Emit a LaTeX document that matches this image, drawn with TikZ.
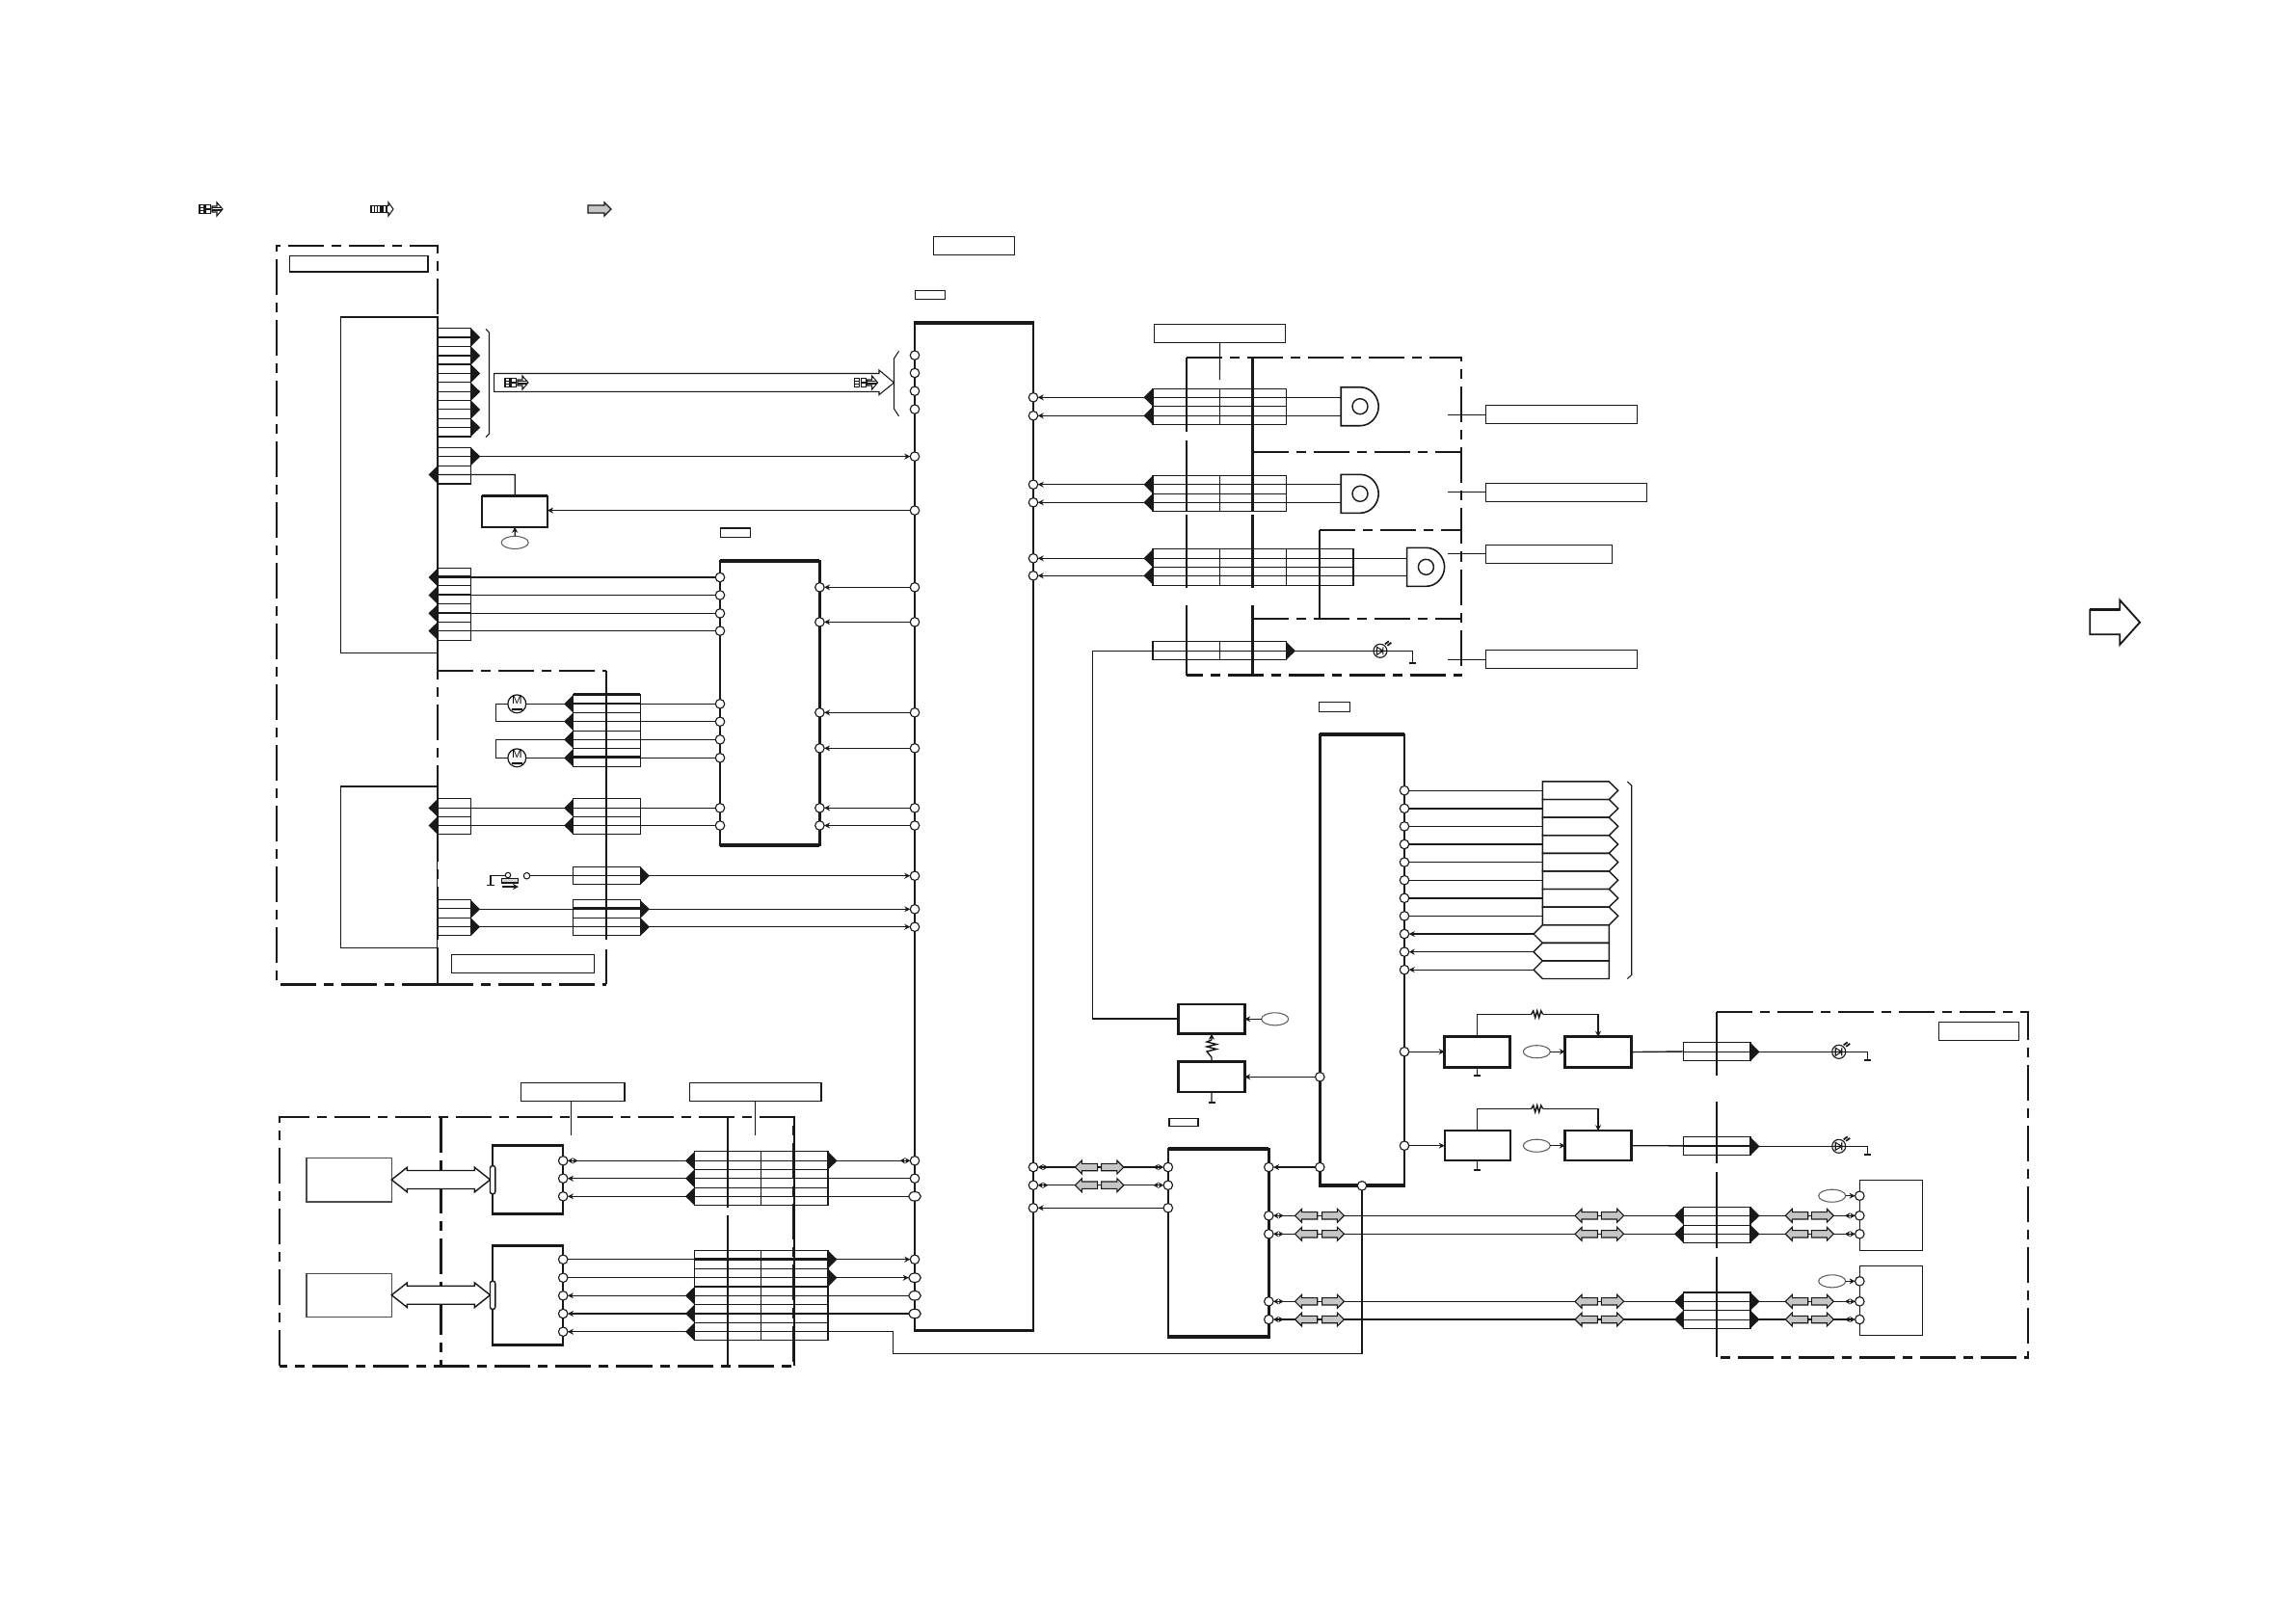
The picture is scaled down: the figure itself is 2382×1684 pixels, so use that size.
\documentclass[tikz,border=0pt]{standalone}
\usetikzlibrary{arrows.meta,shapes.geometric}
\definecolor{ink}{gray}{0.1}
\tikzset{
  w0/.style={line width=0.3pt,draw=ink},
  w1/.style={line width=0.4pt,draw=ink},
  w15/.style={line width=0.52pt,draw=ink},
  w2/.style={line width=0.7pt,draw=ink},
  w4/.style={line width=1.1pt,draw=ink},
  dsh/.style={line width=0.75pt,draw=ink,dash pattern=on 3.7mm off 0.8mm on 1mm off 0.8mm},
  arr/.style={w1,-{Stealth[length=1.7pt,width=1.7pt]}},
  dbl/.style={w1,-{Stealth[length=1.5pt,width=1.7pt,reversed]Stealth[length=1.5pt,width=1.7pt]}},
  bb/.style={w1,{Stealth[length=1.5pt,width=1.7pt]Stealth[length=1.5pt,width=1.7pt,reversed]}-{Stealth[length=1.5pt,width=1.7pt,reversed]Stealth[length=1.5pt,width=1.7pt]}},
  pinn/.style={circle,draw=ink,line width=0.32pt,fill=white,minimum size=0.095cm,inner sep=0pt,outer sep=0pt},
  pinw/.style={ellipse,draw=ink,line width=0.32pt,fill=white,minimum width=0.125cm,minimum height=0.095cm,inner sep=0pt,outer sep=0pt},
  ell/.style={ellipse,draw=ink!70,line width=0.3pt,fill=white,minimum width=0.28cm,minimum height=0.13cm,inner sep=0pt,outer sep=0pt},
  lbl/.style={w1},
  mot/.style={circle,draw=ink,line width=0.35pt,fill=white,minimum size=0.16cm,inner sep=0pt,outer sep=0pt},
  busf/.style={line width=0.32pt,draw=ink,fill=gray!45},
}
\newcommand\xpin[3]{\node[pinn] (#1) at (#2,#3) {};}
\newcommand\xpinw[3]{\node[pinw] (#1) at (#2,#3) {};}
\newcommand\xbox[6][w1]{\node[draw,#1,rectangle,inner sep=0pt,outer sep=0pt,anchor=north west,minimum width={(#5-#3)*0.01cm},minimum height={(#6-#4)*0.01cm}] (#2) at (#3,#4) {};}
\newcommand\xstk[7]{\xbox[w1]{#1}{#2}{#3}{#4}{#5}%
  \foreach \rr in {#6} {\draw[w0] (#2,\rr) -- (#4,\rr);}%
  \foreach \cc in {#7} {\draw[w0] (\cc,#3) -- (\cc,#5);}}
\newcommand\xtipr[3]{\fill[ink] (#1,#2-#3) -- (#1+9.5,#2) -- (#1,#2+#3) -- cycle;}
\newcommand\xtipl[3]{\fill[ink] (#1,#2-#3) -- (#1-9.5,#2) -- (#1,#2+#3) -- cycle;}
\newcommand\xgnd[2]{\draw[line width=0.6pt,draw=ink] (#1-3.5,#2) -- (#1+3.5,#2);}
\newcommand\xbusr[3]{\draw[busf] (#1,#3-3.7) -- (#2-7,#3-3.7) -- (#2-7,#3-7) -- (#2,#3) -- (#2-7,#3+7) -- (#2-7,#3+3.7) -- (#1,#3+3.7) -- cycle;}
\newcommand\xbusl[3]{\draw[busf] (#2,#3-3.7) -- (#1+7,#3-3.7) -- (#1+7,#3-7) -- (#1,#3) -- (#1+7,#3+7) -- (#1+7,#3+3.7) -- (#2,#3+3.7) -- cycle;}
\newcommand\xresh[3]{\draw[w1] (#1,#3) -- (#1+2,#3-3.5) -- (#1+4,#3+3.5) -- (#1+6,#3-3.5) -- (#1+8,#3+3.5) -- (#1+10,#3-3.5) -- (#2,#3);}
\newcommand\xresv[3]{\draw[w1] (#3,#1) -- (#3-5,#1+2) -- (#3+5,#1+4.5) -- (#3-5,#1+7) -- (#3+5,#1+9.5) -- (#3-5,#1+12) -- (#3,#2);}
\newcommand\xled[3]{\node[circle,draw=ink,line width=0.32pt,minimum size=0.14cm,inner sep=0pt,outer sep=0pt,fill=white] (#1) at (#2,#3) {};
  \draw[w0] (#2-3.5,#3-4) -- (#2-3.5,#3+4) -- (#2+3,#3) -- cycle (#2+3,#3-4) -- (#2+3,#3+4) (#2-7,#3) -- (#2+7,#3);
  \draw[line width=0.5pt,draw=ink] (#2+5,#3-7) -- (#2+9,#3-10) (#2+7.5,#3-5.5) -- (#2+11.5,#3-8.5);}
\newcommand\xicona[2]{%
  \draw[w0] (#1,#2-4.5) rectangle (#1+5,#2+4.5) (#1,#2-1.5) -- (#1+5,#2-1.5) (#1,#2+1.5) -- (#1+5,#2+1.5);
  \draw[w0] (#1+6.5,#2-4.5) rectangle (#1+11.5,#2+4.5) (#1+6.5,#2) -- (#1+11.5,#2);
  \draw[w0,fill=white] (#1+13,#2-3) -- (#1+18,#2-3) -- (#1+18,#2-7) -- (#1+24,#2) -- (#1+18,#2+7) -- (#1+18,#2+3) -- (#1+13,#2+3) -- cycle;
  \draw[line width=0.2pt,draw=ink] (#1+13,#2-1.5) -- (#1+22,#2-1.5) (#1+13,#2) -- (#1+23,#2) (#1+13,#2+1.5) -- (#1+22,#2+1.5);}
\newcommand\xhead[3]{%
  \draw[line width=0.45pt,draw=ink,fill=white] (#1,#2-20) -- (#1+20,#2-20) .. controls (#1+31,#2-20) and (#1+39,#2-10) .. (#1+39,#2) .. controls (#1+39,#2+10) and (#1+31,#2+20) .. (#1+20,#2+20) -- (#1,#2+20) -- cycle;
  \node[circle,draw=ink,line width=0.4pt,minimum size=0.16cm,inner sep=0pt,outer sep=0pt] (#3) at (#1+19.8,#2) {};}
\begin{document}
\begin{tikzpicture}[x=0.01cm,y=-0.01cm]
\useasboundingbox[fill=white] (0,0) rectangle (2382,1684);

% legend
\xicona{207}{217}
\draw[w0] (385,213.5) rectangle (395,220.5) (388.3,213.5) -- (388.3,220.5) (391.7,213.5) -- (391.7,220.5);
\draw[w0] (397,213.5) rectangle (401,220.5);
\draw[w0] (401,213.5) -- (403,213.5) -- (403,210) -- (408,217) -- (403,224) -- (403,220.5) -- (401,220.5);
\draw[busf] (610,213) -- (627,213) -- (627,210) -- (634,217) -- (627,224) -- (627,221) -- (610,221) -- cycle;

% dashed frames
\draw[dsh] (454,1021.3) -- (287,1021.3) -- (287,255) -- (454,255) -- (454,1021.3);
\draw[dsh] (454,696) -- (629,696);
\draw[dsh] (454,1021.3) -- (629,1021.3);
\draw[w1] (629,696) -- (629,975) (629,985) -- (629,1021.3);

\draw[dsh] (1231,371) -- (1515.8,371) -- (1515.8,700.7) -- (1231,700.7);
\draw[dsh] (1299.7,469) -- (1515.8,469);
\draw[dsh] (1299.7,642) -- (1515.8,642);
\draw[dsh] (1369,550) -- (1515.8,550);
\draw[w2] (1231,371) -- (1231,448) (1231,457) -- (1231,530) (1231,534) -- (1231,610) (1231,628) -- (1231,700.7);
\draw[w2] (1299.7,371) -- (1299.7,530) (1299.7,534) -- (1299.7,610) (1299.7,628) -- (1299.7,700.7);
\draw[w2] (1369,550) -- (1369,642);

\draw[dsh] (290,1417.3) -- (290,1159) -- (823.8,1159) -- (823.8,1417.3) -- cycle;
\draw[dsh] (457.2,1159) -- (457.2,1417.3);
\draw[w2] (755,1159) -- (755,1252.7) (755,1261) -- (755,1417.3);
\draw[w2] (823.8,1159) -- (823.8,1252.7) (823.8,1261) -- (823.8,1417.3);

\draw[dsh] (1781,1050) -- (2104,1050) -- (2104,1408.3) -- (1781,1408.3);
\draw[w2] (1781,1050) -- (1781,1116) (1781,1143) -- (1781,1207) (1781,1216) -- (1781,1295) (1781,1304) -- (1781,1408.3);

% label boxes
\xbox[lbl]{lA}{300.4}{265.4}{444}{281.8}
\xbox[lbl]{lB}{468.4}{990.3}{616.6}{1009.3}
\xbox[lbl]{lC}{968.3}{245.3}{1052.3}{264.3}
\xbox[lbl]{lD}{949.3}{301.3}{980.7}{310.7}
\xbox[lbl]{lE}{747.4}{547.9}{778.5}{557.5}
\xbox[lbl]{lF}{1368.3}{728.3}{1400.7}{738.3}
\xbox[lbl]{lG}{1213}{1160.5}{1243}{1168.5}
\xbox[lbl]{lH}{1197.5}{336.3}{1333.7}{355.3}
\coordinate (lHe) at (1265.4,394);
\draw[w0] (lH.south) -- (lHe);
\xbox[lbl]{lI}{1541.3}{420.3}{1698.4}{439.3}
\xbox[lbl]{lJ}{1541.3}{501.3}{1708.7}{520.3}
\xbox[lbl]{lK}{1541.3}{565.3}{1672.5}{584.3}
\xbox[lbl]{lL}{1541.3}{674.3}{1698.4}{693.3}
\coordinate (lIe) at (1502,430.3);
\coordinate (lJe) at (1502,510.3);
\coordinate (lKe) at (1502,574.3);
\coordinate (lLe) at (1502,684.3);
\draw[w1] (lI.west |- lIe) -- (lIe);
\draw[w1] (lJ.west |- lJe) -- (lJe);
\draw[w1] (lK.west |- lKe) -- (lKe);
\draw[w1] (lL.west |- lLe) -- (lLe);
\xbox[lbl]{lM}{540.2}{1123.3}{647.8}{1142.7}
\xbox[lbl]{lN}{715.5}{1123.3}{851.8}{1142.7}
\coordinate (lMe) at (592.3,1178.3);
\coordinate (lNe) at (783.6,1178.3);
\draw[w0] (lM.south -| lMe) -- (lMe);
\draw[w0] (lN.south -| lNe) -- (lNe);
\xbox[lbl]{lO}{2011.3}{1060.3}{2094.3}{1079.3}

% main blocks
\xbox[w1]{bA}{353.5}{329}{454}{677.5}
\xbox[w1]{bB}{353.7}{816}{453.7}{983.7}
\draw[w2] (bB.north west) -- (bB.north east);
\xbox[w2]{mn}{949}{334.7}{1072}{1380.7}
\draw[w4] (mn.north west) -- (mn.north east);
\xbox[w2]{ic2}{747}{582}{850.4}{876.7}
\draw[w4] (ic2.north west) -- (ic2.north east);
\draw[w4] (ic2.south west) -- (ic2.south east);
\xbox[w2]{ic3}{1369.3}{762.4}{1457}{1230.3}
\draw[w4] (ic3.north west) -- (ic3.north east);
\draw[w4] (ic3.south west) -- (ic3.south east);
\xbox[w2]{ic4}{1211.8}{1192}{1316.3}{1387.3}
\draw[w4] (ic4.north west) -- (ic4.north east);
\draw[w4] (ic4.south west) -- (ic4.south east);
\xbox[w2]{ic5}{510.8}{1188}{584.2}{1259.3}
\draw[w2,line width=0.85pt] (ic5.north west) -- (ic5.north east);
\draw[w2,line width=0.85pt] (ic5.south west) -- (ic5.south east);
\xbox[w2]{ic6}{510.8}{1292.7}{584.2}{1395.7}
\draw[w2,line width=0.85pt] (ic6.north west) -- (ic6.north east);
\draw[w2,line width=0.85pt] (ic6.south west) -- (ic6.south east);
\xbox[w1,draw=gray!60!black]{gA}{317.9}{1201.7}{406.3}{1247}
\xbox[w1,draw=gray!60!black]{gB}{317.9}{1321.3}{406.3}{1366.7}
\xbox[w15]{bT}{500.4}{514.6}{568}{546.8}
\draw[w2] (bT.north west) -- (bT.north east);
\xbox[w2]{bH}{1222.7}{1042}{1291.3}{1072.7}
\xbox[w2]{bI}{1222.7}{1101.7}{1291.3}{1133}
\xbox[w2]{bC}{1498.7}{1075.7}{1566.7}{1107.4}
\xbox[w2]{bD}{1623.7}{1075.7}{1692.3}{1107.4}
\xbox[w15]{bE}{1498.7}{1173.2}{1566.7}{1204.2}
\xbox[w2]{bF}{1623.7}{1173.2}{1692.3}{1204.2}
\xbox[w1]{bR}{1929.3}{1224.3}{1994.3}{1297.3}
\xbox[w1]{bS}{1929.3}{1313.3}{1994.3}{1385.3}

% stacks
\xstk{s1}{454}{340.4}{488.7}{452.9}{350,359.3,369,378,387.5,396.8,406.4,415.4,424.6,434.3,443.6}{454}
\foreach \yy in {350,369,387.5,406.4,425,443.6} {\xtipr{488.7}{\yy}{9.3}}
\xstk{s2}{454}{464.3}{488.7}{501.8}{473.6,483.2,492.5}{454}
\xtipr{488.7}{473.6}{9.3}
\xtipl{454}{492.5}{9.3}
\xstk{s3}{454}{589.3}{488.7}{664.3}{598.6,607.9,617,626.4,636,645.4,654.3}{454}
\draw[w2] (454,598.6) -- (488.7,598.6);
\foreach \yy in {599,617.5,636.4,654.6} {\xtipl{454}{\yy}{9.3}}
\xstk{s4}{594.7}{720.7}{664.4}{795.3}{730,739.3,748.3,758.3,767.3,776.3,786.3}{629}
\draw[w2] (594.7,720.7) -- (664.4,720.7) (594.7,785.5) -- (664.4,785.5);
\foreach \yy in {730.3,748.7,767.3,786.3} {\xtipl{594.7}{\yy}{9.3}}
\xstk{s5}{454}{828.3}{488.5}{865.7}{838.3,847.3,856.5}{454}
\xtipl{454}{838.3}{9.3}\xtipl{454}{856.5}{9.3}
\xstk{s6}{594.7}{828.3}{664.4}{865.7}{838.3,847.3,856.5}{629}
\xtipl{594.7}{838.3}{9.3}\xtipl{594.7}{856.5}{9.3}
\xstk{s7}{594.7}{899.3}{664.4}{917.7}{908.7}{629}
\xtipr{664.4}{908.7}{9.3}
\xstk{s8}{454}{933.3}{488.5}{970.7}{942.7,952.3,961.3}{454}
\xtipr{488.5}{943.3}{9.3}\xtipr{488.5}{961.7}{9.3}
\xstk{s9}{594.7}{933.3}{664.4}{970.7}{942.7,952.3,961.3}{629}
\draw[w2] (594.7,942.7) -- (664.4,942.7);
\xtipr{664.4}{943.3}{9.3}\xtipr{664.4}{961.7}{9.3}

\xstk{t1}{1196}{403.3}{1334.5}{440.3}{412.3,421.3,431.3}{1230.5,1265.4,1299.7}
\xtipl{1196}{412.3}{9.3}\xtipl{1196}{431.3}{9.3}
\xstk{t2}{1196}{493.3}{1334.5}{530.7}{502.7,512.3,521.3}{1230.5,1265.4,1299.7}
\xtipl{1196}{502.7}{9.3}\xtipl{1196}{521.3}{9.3}
\xstk{t3}{1196}{569.3}{1403.8}{607.3}{579.3,588.3,597.3}{1230.5,1265.4,1299.7,1334.5,1369.4}
\xtipl{1196}{579.3}{9.3}\xtipl{1196}{597.3}{9.3}
\xstk{t4}{1196}{665.3}{1334.5}{684.3}{675.3}{1230.5,1265.4,1299.7}
\xtipr{1334.5}{675.3}{9.3}

\xstk{u1}{720.5}{1194.3}{859}{1250.7}{1204.3,1213.7,1222.7,1232.3,1241.3}{755,789.8,824.2}
\foreach \yy in {1204.3,1222.7,1241.3} {\xtipl{720.5}{\yy}{9.3}}
\xtipr{859}{1204.3}{9.3}
\xstk{u2}{720.5}{1297.7}{859}{1390.7}{1307,1316.3,1325.7,1335,1344.3,1353.7,1363,1372.3,1381.7}{755,789.8,824.2}
\draw[w2] (720.5,1306) -- (859,1306) (720.5,1335) -- (859,1335) (720.5,1363) -- (859,1363);
\xtipr{859}{1306.7}{9.3}\xtipr{859}{1325.7}{9.3}
\foreach \yy in {1344.3,1363,1381.7} {\xtipl{720.5}{\yy}{9.3}}

\xstk{v1}{1746.5}{1081.3}{1816}{1100.7}{1091.3}{1781}
\xtipr{1816}{1091.3}{9.5}
\xstk{v2}{1746.5}{1179.3}{1816}{1198.3}{1189.3}{1781}
\draw[w2] (1746.5,1188.8) -- (1816,1188.8);
\xtipr{1816}{1189.3}{9.5}
\xstk{v3}{1746.5}{1252.3}{1816}{1289.3}{1261.3,1271.3,1280.3}{1781}
\xtipl{1746.5}{1261.3}{9.3}\xtipl{1746.5}{1280.3}{9.3}
\xtipr{1816}{1261.3}{9.3}\xtipr{1816}{1280.3}{9.3}
\xstk{v4}{1746.5}{1341}{1816}{1378.3}{1350.3,1359.3,1369}{1781}
\draw[w2] (1746.5,1341) -- (1816,1341);
\xtipl{1746.5}{1350.3}{9.3}\xtipl{1746.5}{1369}{9.3}
\xtipr{1816}{1350.3}{9.3}\xtipr{1816}{1369}{9.3}

% brace marks
\draw[w0] (504,341.4) -- (507.5,345) -- (507.5,450) -- (504,453.6);
\draw[w0] (932.5,364.3) -- (927.5,372) -- (927.5,424) -- (932.5,431.8);
\draw[w0] (1688.3,811) -- (1692.7,815) -- (1692.7,1011.5) -- (1688.3,1015.5);

% big arrow
\draw[w0,fill=white] (512.6,387.5) -- (912,387.5) -- (912,384) -- (927.5,397) -- (912,409.6) -- (912,406.4) -- (512.6,406.4) -- cycle;
\xicona{524}{397}
\xicona{886.6}{397}

% far right arrow
\draw[w15] (2168.3,632.7) -- (2199.3,632.7) -- (2199.3,622.7) -- (2220,645.7) -- (2199.3,668.7) -- (2199.3,658.3) -- (2168.3,658.3) -- cycle;
\draw[w2] (2168.3,632.7) -- (2199.3,632.7);

% pins on main, left
\foreach \nn/\yy in {m1/368.6,m2/387,m3/405.7,m4/424.6,m5/473.6,m6/529.6,m7/609.3,m8/645.4,m9/739.3,m10/776.3,m11/838.3,m12/856.5,m13/908.7,m14/943.3,m15/961.7,m16/1204.3,m17/1222.7,m19/1306.7}
  {\xpin{\nn}{949}{\yy}}
\foreach \nn/\yy in {m18/1241.3,m20/1325.7,m21/1344.3,m22/1363}
  {\xpinw{\nn}{949}{\yy}}
\foreach \nn/\yy in {r1/412.3,r2/431.3,r3/502.7,r4/521.3,r5/579.3,r6/597.3,r7/1211,r8/1229.7,r9/1253.3}
  {\xpin{\nn}{1072}{\yy}}
\foreach \nn/\yy in {a1/599,a2/617.5,a3/636.4,a4/654.6,a5/730.3,a6/748.7,a7/767.3,a8/786.3,a9/838.3,a10/856.5}
  {\xpin{\nn}{747}{\yy}}
\foreach \nn/\yy in {b1/609.3,b2/645.4,b3/739.3,b4/776.3,b5/838.3,b6/856.5}
  {\xpin{\nn}{850.4}{\yy}}
\foreach \nn/\yy in {i1/1204.3,i2/1222.7,i3/1241.3,j1/1306.7,j2/1325.7,j3/1344.3,j4/1363,j5/1381.7}
  {\xpin{\nn}{584.2}{\yy}}
\foreach \nn/\yy in {d1/1211,d2/1229.7,d3/1253.3}
  {\xpin{\nn}{1211.8}{\yy}}
\foreach \nn/\yy in {e0/1211,e1/1261.3,e2/1280.3,e3/1350.3,e4/1369}
  {\xpin{\nn}{1316.3}{\yy}}
\xpin{pa}{1369.3}{1117.3}
\xpin{pb}{1369.3}{1211}
\xpin{pbot}{1413}{1230.3}
\xpin{qa}{1457}{1091.2}
\xpin{qb}{1457}{1188.7}
\foreach \nn/\yy in {f1/1240.7,f2/1261.3,f3/1280.3,f4/1329.3,f5/1350.3,f6/1369}
  {\xpin{\nn}{1929.3}{\yy}}

% wires, top left
\draw[arr] (s2.east |- m5) -- (m5);
\draw[w1] (454,492.5) -- (534.2,492.5) -- (bT.north);
\draw[arr] (m6) -- (bT.east |- m6);
\node[ell] (eT) at (534.2,562.9) {};
\draw[arr] (eT) -- (bT.south);
\foreach \aa in {a1,a2,a3,a4} {\draw[w1] (s3.east |- \aa) -- (\aa);}
\draw[arr] (m7) -- (b1);
\draw[arr] (m8) -- (b2);

% motors
\node[mot] (mo1) at (536.3,730.3) {\fontsize{3.4}{3.4}\selectfont\sffamily\underline{M}};
\node[mot] (mo2) at (536.3,786.3) {\fontsize{3.4}{3.4}\selectfont\sffamily\underline{M}};
\coordinate (lp1) at (514.4,730.3);
\coordinate (lp2) at (514.4,748.7);
\coordinate (lp3) at (514.4,767.3);
\coordinate (lp4) at (514.4,786.3);
\draw[w1] (mo1) -- (s4.west |- mo1);
\draw[w1] (mo1) -- (lp1) -- (lp2) -- (s4.west |- lp2);
\draw[w1] (mo2) -- (s4.west |- mo2);
\draw[w1] (mo2) -- (lp4) -- (lp3) -- (s4.west |- lp3);
\foreach \aa in {a5,a6,a7,a8} {\draw[w1] (s4.east |- \aa) -- (\aa);}
\draw[arr] (m9) -- (b3);
\draw[arr] (m10) -- (b4);
\foreach \aa in {a9,a10} {\draw[w1] (s5.east |- \aa) -- (s6.west |- \aa); \draw[w1] (s6.east |- \aa) -- (\aa);}
\draw[arr] (m11) -- (b5);
\draw[arr] (m12) -- (b6);

% switch
\node[circle,draw=ink,line width=0.3pt,minimum size=0.065cm,inner sep=0pt,outer sep=0pt,fill=white] (sw) at (546.5,908.7) {};
\draw[w1] (sw) -- (s7.west |- sw);
\draw[arr] (s7.east |- m13) -- (m13);
\draw[w1] (524,908.3) -- (509,908.3) -- (509,918.7);
\draw[w1] (504.5,918.7) -- (513,918.7);
\node[circle,draw=ink,line width=0.3pt,minimum size=0.055cm,inner sep=0pt,fill=white] (swk) at (527,908) {};
\draw[w1,fill=gray!30] (520.6,911.3) rectangle (537.6,916);
\draw[arr] (520.6,920) -- (538,920);
\draw[w1] (s8.east |- m14) -- (s9.west |- m14);
\draw[w1] (s8.east |- m15) -- (s9.west |- m15);
\draw[arr] (s9.east |- m14) -- (m14);
\draw[arr] (s9.east |- m15) -- (m15);

% top right wires and heads
\draw[arr] (t1.west |- r1) -- (r1);
\draw[arr] (t1.west |- r2) -- (r2);
\draw[arr] (t2.west |- r3) -- (r3);
\draw[arr] (t2.west |- r4) -- (r4);
\draw[arr] (t3.west |- r5) -- (r5);
\draw[arr] (t3.west |- r6) -- (r6);

\xhead{1391.2}{421.7}{hc1}
\xhead{1391.2}{512.3}{hc2}
\xhead{1459.6}{588.3}{hc3}
\coordinate (hd1) at (1391.2,421.7);
\coordinate (hd2) at (1391.2,512.3);
\coordinate (hd3) at (1459.6,588.3);
\draw[w1] (t1.east |- r1) -- (hd1 |- r1);
\draw[w1] (t1.east |- r2) -- (hd1 |- r2);
\draw[w1] (t2.east |- r3) -- (hd2 |- r3);
\draw[w1] (t2.east |- r4) -- (hd2 |- r4);
\draw[w1] (t3.east |- r5) -- (hd3 |- r5);
\draw[w1] (t3.east |- r6) -- (hd3 |- r6);

% LED on top right
\xled{ld1}{1431.9}{675.3}
\coordinate (gd1) at (1465.4,687.7);
\draw[w1] (t4.east |- ld1) -- (ld1);
\draw[w1] (ld1) -| (gd1);
\xgnd{1465.4}{687.7}

% regulators
\coordinate (wc1) at (1133.3,675.3);
\coordinate (wc2) at (1133.3,1057);
\draw[w1] (t4.west |- wc1) -- (wc1) -- (wc2) -- (bH.west |- wc2);
\node[ell] (eH) at (1322.7,1057.3) {};
\draw[arr] (eH) -- (bH.east |- eH);
\coordinate (rv1) at (1257,1079);
\coordinate (rv2) at (1257,1097);
\xresv{1079}{1097}{1257}
\draw[arr] (rv1) -- (bH.south);
\draw[w1] (rv2) -- (bI.north);
\draw[arr] (pa) -- (bI.east |- pa);
\coordinate (gI) at (1257,1144);
\draw[w1] (bI.south) -- (gI);
\xgnd{1257}{1144}

% right pins of IC3
\foreach \i in {1,...,11} {
  \pgfmathsetmacro\tp{810.9+18.6*(\i-1)}
  \pgfmathsetmacro\md{\tp+9.3}
  \pgfmathsetmacro\bt{\tp+18.6}
  \xpin{q\i}{1457}{\md}
  \ifnum\i<9
    \draw[w1] (1600.3,\tp) -- (1669.3,\tp) -- (1678.7,\md) -- (1669.3,\bt) -- (1600.3,\bt) -- cycle;
    \coordinate (ch\i) at (1600.3,\md);
    \draw[w1] (q\i) -- (ch\i);
  \else
    \draw[w1] (1669.3,\tp) -- (1600.3,\tp) -- (1591,\md) -- (1600.3,\bt) -- (1669.3,\bt) -- cycle;
    \coordinate (ch\i) at (1591,\md);
    \draw[arr] (ch\i) -- (q\i);
  \fi
}

% LED drivers
\draw[arr] (qa) -- (bC.west |- qa);
\draw[arr] (qb) -- (bE.west |- qb);
\coordinate (rh1) at (1588.7,1052.3);
\coordinate (rh2) at (1600.7,1052.3);
\coordinate (rh3) at (1588.7,1150.4);
\coordinate (rh4) at (1600.7,1150.4);
\draw[w1] (bC.north) |- (rh1);
\xresh{1588.7}{1600.7}{1052.3}
\draw[arr] (rh2) -| (bD.north);
\draw[w1] (bE.north) |- (rh3);
\xresh{1588.7}{1600.7}{1150.4}
\draw[arr] (rh4) -| (bF.north);
\coordinate (gC) at (1532.7,1116.4);
\coordinate (gE) at (1532.7,1213.8);
\draw[w1] (bC.south) -- (gC);
\draw[w1] (bE.south) -- (gE);
\xgnd{1532.7}{1116.4}
\xgnd{1532.7}{1213.8}
\node[ell] (eD) at (1594.3,1091.2) {};
\node[ell] (eF) at (1594.3,1188.7) {};
\draw[arr] (eD) -- (bD.west |- eD);
\draw[arr] (eF) -- (bF.west |- eF);
\draw[w1] (bD.east) -- (v1.west);
\draw[w1] (bF.east) -- (v2.west);
\xled{ld2}{1907.7}{1091.3}
\xled{ld3}{1907.7}{1189.3}
\coordinate (gd2) at (1937.3,1100);
\coordinate (gd3) at (1937.3,1198);
\draw[w1] (v1.east |- ld2) -- (ld2);
\draw[w1] (v2.east |- ld3) -- (ld3);
\draw[w1] (ld2) -| (gd2);
\draw[w1] (ld3) -| (gd3);
\xgnd{1937.3}{1100}
\xgnd{1937.3}{1198}

% buses
\draw[bb] (r7) -- (d1);
\draw[bb] (r8) -- (d2);
\draw[arr] (d3) -- (r9);
\draw[arr] (pb) -- (e0);
\foreach \yy in {1211,1229.7} {\xbusl{1115.4}{1138.6}{\yy}\xbusr{1142.6}{1165.8}{\yy}}
\foreach \aa in {e1,e2,e3,e4} {
  \draw[w1,{Stealth[length=1.5pt,width=1.7pt]Stealth[length=1.5pt,width=1.7pt,reversed]}-] (\aa) -- (v4.west |- \aa);
}
\foreach \yy in {1261.3,1280.3,1350.3,1369} {
  \xbusl{1343.5}{1366.7}{\yy}\xbusr{1371.6}{1394.4}{\yy}
  \xbusl{1634}{1657.3}{\yy}\xbusr{1661.3}{1684.6}{\yy}
}
\draw[dbl] (v3.east |- f2) -- (f2);
\draw[dbl] (v3.east |- f3) -- (f3);
\draw[dbl] (v4.east |- f5) -- (f5);
\draw[dbl] (v4.east |- f6) -- (f6);
\foreach \yy in {1261.3,1280.3,1350.3,1369} {
  \xbusl{1852.3}{1875.7}{\yy}\xbusr{1879.3}{1902.3}{\yy}
}
\node[ell] (eR) at (1900.7,1240.7) {};
\node[ell] (eS) at (1900.7,1329.3) {};
\draw[arr] (eR) -- (f1);
\draw[arr] (eS) -- (f4);

% bottom long wire
\coordinate (k1) at (926.6,1381.7);
\coordinate (k2) at (926.6,1404.3);
\draw[w1] (pbot) |- (k2) -- (k1) -- (u2.east |- k1);
\draw[arr] (u2.west |- j5) -- (j5);

% lower left wires
\draw[bb] (m16) -- (i1);
\draw[arr] (m17) -- (i2);
\draw[arr] (m18) -- (i3);
\draw[arr] (j1) -- (m19);
\draw[arr] (j2) -- (m20);
\draw[arr] (m21) -- (j3);
\draw[arr] (m22) -- (j4);

% slots and double arrows
\foreach \yy in {1224,1343.7} {
  \draw[w1,fill=white] (406.3,\yy) -- (422.4,\yy-12.8) -- (422.4,\yy-9.5) -- (492.4,\yy-9.5) -- (492.4,\yy-12.8) -- (508.5,\yy) -- (492.4,\yy+12.8) -- (492.4,\yy+9.5) -- (422.4,\yy+9.5) -- (422.4,\yy+12.8) -- cycle;
}
\draw[w1,fill=white,rounded corners=0.6pt] (508.5,1209.7) rectangle (513.8,1238.7);
\draw[w1,fill=white,rounded corners=0.6pt] (508.5,1329.3) rectangle (513.8,1358.3);
\end{tikzpicture}
\end{document}
